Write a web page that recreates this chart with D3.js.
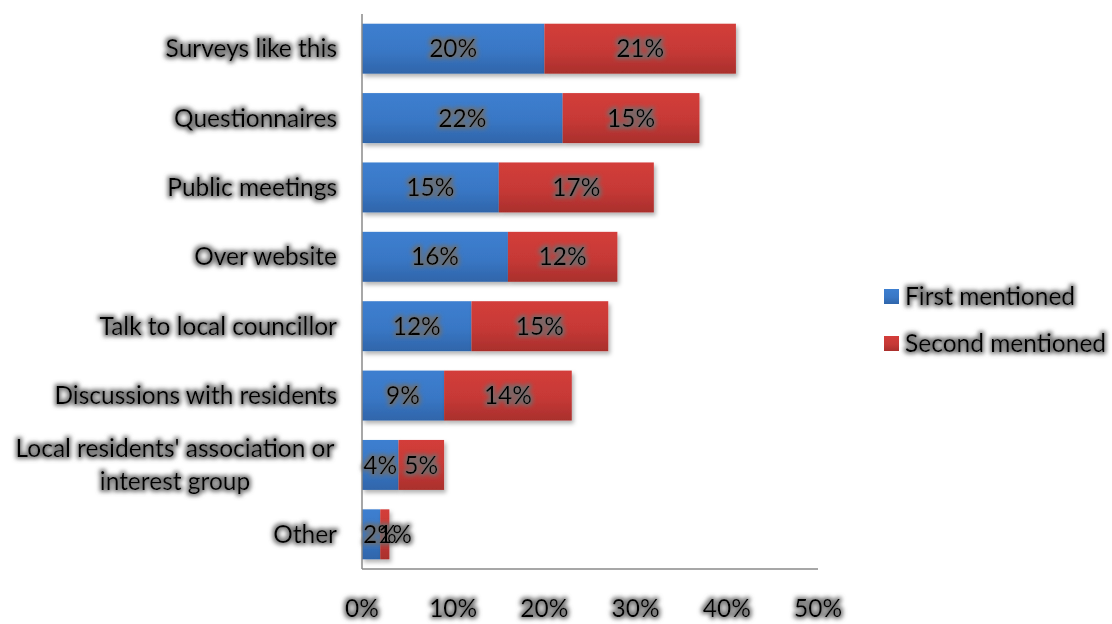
<!DOCTYPE html>
<html>
<head>
<meta charset="utf-8">
<script src="https://cdn.jsdelivr.net/npm/d3@7"></script>
<style>
  html, body { margin: 0; padding: 0; background: #fff; }
  svg { display: block; font-family: Lato, "Open Sans", sans-serif; }
</style>
</head>
<body>
<svg id="chart" width="1112" height="624"></svg>
<script>
// Ways of being consulted: share of first and second mentions
const categories = [
  "Surveys like this",
  "Questionnaires",
  "Public meetings",
  "Over website",
  "Talk to local councillor",
  "Discussions with residents",
  "Local residents' association or interest group",
  "Other"
];
const firstMentioned  = [20, 22, 15, 16, 12, 9, 4, 2];
const secondMentioned = [21, 15, 17, 12, 15, 14, 5, 1];
const seriesNames = ["First mentioned", "Second mentioned"];
const xTicks = [0, 10, 20, 30, 40, 50];

// Wrapped label lines for long categories
const labelLines = {
  "Local residents' association or interest group": ["Local residents' association or", "interest group"]
};

const FONT = 24.5;
const svg = d3.select("#chart");
const margin = { left: 362, top: 14, plotRight: 818, plotBottom: 569 };

const x = d3.scaleLinear().domain([0, 50]).range([margin.left, margin.plotRight]);
const y = d3.scaleBand().domain(categories).range([margin.top, margin.plotBottom]).paddingInner(0.28).paddingOuter(0.14);

const defs = svg.append("defs");

// Soft grey halo behind text
const glow = defs.append("filter").attr("id", "glow").attr("x", "-20%").attr("y", "-40%").attr("width", "140%").attr("height", "180%");
glow.append("feMorphology").attr("in", "SourceAlpha").attr("operator", "dilate").attr("radius", 1.8).attr("result", "dil");
glow.append("feGaussianBlur").attr("in", "dil").attr("stdDeviation", 2).attr("result", "blur");
glow.append("feFlood").attr("flood-color", "#6e6e6e").attr("flood-opacity", 0.9).attr("result", "col");
glow.append("feComposite").attr("in", "col").attr("in2", "blur").attr("operator", "in").attr("result", "halo");
const gm = glow.append("feMerge");
gm.append("feMergeNode").attr("in", "halo");
gm.append("feMergeNode").attr("in", "SourceGraphic");

// Drop shadow under bars
const shadow = defs.append("filter").attr("id", "barShadow").attr("x", "-10%").attr("y", "-20%").attr("width", "130%").attr("height", "160%");
shadow.append("feDropShadow").attr("dx", 2).attr("dy", 3).attr("stdDeviation", 2).attr("flood-color", "#000").attr("flood-opacity", 0.3);

// Vertical gradients for the two series
const gradients = [
  { id: "gBlue", top: "#3d7fd0", bottom: "#2f65aa" },
  { id: "gRed", top: "#d33d3a", bottom: "#a92f2c" }
];
gradients.forEach(g => {
  const lg = defs.append("linearGradient").attr("id", g.id).attr("x1", 0).attr("y1", 0).attr("x2", 0).attr("y2", 1);
  lg.append("stop").attr("offset", "0%").attr("stop-color", g.top);
  lg.append("stop").attr("offset", "55%").attr("stop-color", d3.interpolateRgb(g.top, g.bottom)(0.3));
  lg.append("stop").attr("offset", "100%").attr("stop-color", g.bottom);
});
const fills = ["url(#gBlue)", "url(#gRed)"];

// Stack the two series
const rows = categories.map((c, i) => ({ cat: c, first: firstMentioned[i], second: secondMentioned[i] }));
const stack = d3.stack().keys(["first", "second"])(rows);

const barsG = svg.append("g");
stack.forEach((layer, li) => {
  barsG.append("g").attr("filter", "url(#barShadow)")
    .selectAll("rect").data(layer).enter().append("rect")
    .attr("x", d => x(d[0]))
    .attr("y", d => y(d.data.cat))
    .attr("width", d => x(d[1]) - x(d[0]))
    .attr("height", y.bandwidth())
    .attr("fill", fills[li]);
});

// Axis lines
svg.append("line").attr("x1", x(0)).attr("x2", x(0)).attr("y1", margin.top).attr("y2", margin.plotBottom)
  .attr("stroke", "#8a8a8a").attr("stroke-width", 1.5);
svg.append("line").attr("x1", x(0)).attr("x2", x(50)).attr("y1", margin.plotBottom).attr("y2", margin.plotBottom)
  .attr("stroke", "#8a8a8a").attr("stroke-width", 1.5);

// Value labels centred in each segment; kept right of the axis and apart from each other
const labelsG = svg.append("g").attr("filter", "url(#glow)")
  .attr("font-size", FONT).attr("fill", "#000").attr("text-anchor", "middle");
rows.forEach((r, i) => {
  const cy = y(r.cat) + y.bandwidth() / 2;
  let prev = -Infinity;
  stack.forEach(layer => {
    const d = layer[i];
    const t = labelsG.append("text").attr("y", cy).attr("dy", "0.35em").text((d[1] - d[0]) + "%");
    const w = t.node().getComputedTextLength();
    let cx = (x(d[0]) + x(d[1])) / 2;
    cx = Math.max(cx, x(0) + w / 2 + 1, prev + 15);
    t.attr("x", cx);
    prev = cx;
  });
});

// Category labels
const catG = svg.append("g").attr("filter", "url(#glow)").attr("font-size", FONT).attr("fill", "#000");
categories.forEach(c => {
  const cy = y(c) + y.bandwidth() / 2;
  const lines = labelLines[c];
  if (lines) {
    const lh = 33;
    const t = catG.append("text").attr("text-anchor", "middle").attr("x", 175);
    lines.forEach((ln, i) => {
      t.append("tspan").attr("x", 175).attr("y", cy + (i - (lines.length - 1) / 2) * lh).attr("dy", "0.35em").text(ln);
    });
  } else {
    catG.append("text").attr("text-anchor", "end").attr("x", 337).attr("y", cy).attr("dy", "0.35em").text(c);
  }
});

// X tick labels
const tickG = svg.append("g").attr("filter", "url(#glow)").attr("font-size", FONT).attr("fill", "#000").attr("text-anchor", "middle");
tickG.selectAll("text").data(xTicks).enter().append("text")
  .attr("x", d => x(d)).attr("y", 608).attr("dy", "0.35em")
  .text(d => d + "%");

// Legend
const legend = svg.append("g");
seriesNames.forEach((name, i) => {
  const ly = 296 + i * 47;
  legend.append("rect").attr("x", 884).attr("y", ly - 7).attr("width", 15).attr("height", 15).attr("fill", fills[i]);
  legend.append("text").attr("filter", "url(#glow)").attr("x", 905).attr("y", ly).attr("dy", "0.35em")
    .attr("font-size", FONT).attr("fill", "#000").text(name);
});
</script>
</body>
</html>
